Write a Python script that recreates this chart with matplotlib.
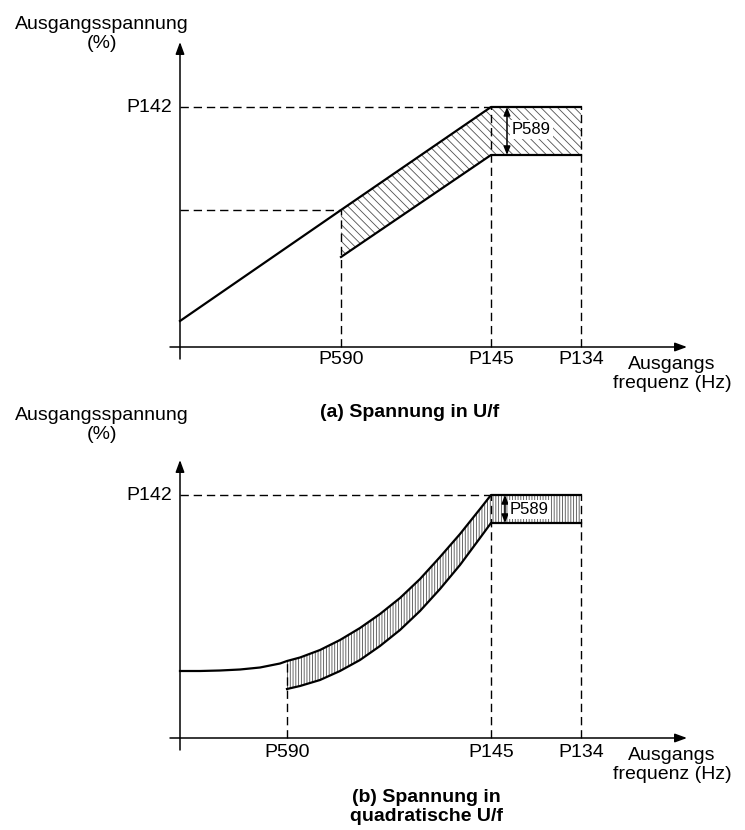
import matplotlib.pyplot as plt

plt.rcParams['font.family'] = ['Liberation Sans', 'DejaVu Sans']
plt.rcParams['hatch.linewidth'] = 0.6

# frequency positions of the parameters (same for both diagrams)
p590_lin = 161
p590_quad = 107
p145 = 311
p134 = 401

# (a) linear U/f: output voltage vs. frequency
lin_f = [0, 161, 311, 401]
lin_upper = [26, 137, 240, 240]
lin_lower = [90, 192, 192]          # starts at P590
lin_p142 = 240
lin_mid = 137

# (b) quadratic U/f
quad_f = [0, 20, 40, 60, 80, 100, 107, 120, 140, 160, 180, 200, 220, 240,
          260, 280, 300, 311, 401]
quad_upper = [67, 67, 67.5, 68.5, 70.5, 74.5, 77, 80.5, 88, 98, 110, 124,
              140, 159, 181, 204, 229, 243, 243]
quad_lower = [49, 52, 58, 67, 78, 92, 108, 127, 149, 173, 200, 215, 215]  # from P590
quad_p142 = 243

tick_names = ['P590', 'P145', 'P134']
y_label = 'Ausgangsspannung\n(%)'
x_label = 'Ausgangs\nfrequenz (Hz)'

FS = 14
DASH = dict(color='black', lw=1.0, dashes=(6, 3.5))
LINE = dict(color='black', lw=1.6)


def axis_arrow(ax, start, end):
    ax.annotate('', xy=end, xytext=start,
                arrowprops=dict(arrowstyle='-|>,head_length=0.6,head_width=0.22',
                                color='black', lw=1.1, shrinkA=0, shrinkB=0,
                                mutation_scale=12))


def draw_frame(ax, y_top):
    axis_arrow(ax, (0, -12), (0, y_top))
    axis_arrow(ax, (-10, 0), (507, 0))
    ax.text(-78, 313, y_label, ha='center', va='center', fontsize=FS,
            linespacing=1.15)
    ax.text(492, -27, x_label, ha='center', va='center', fontsize=FS,
            linespacing=1.15)


def p589(ax, f, top, bottom, text_v):
    ax.annotate('', xy=(f, top), xytext=(f, bottom),
                arrowprops=dict(arrowstyle='<|-|>,head_length=0.5,head_width=0.2',
                                color='black', lw=1.1, shrinkA=0, shrinkB=0,
                                mutation_scale=10))
    ax.text(f + 5, text_v, 'P589', ha='left', va='center', fontsize=12,
            bbox=dict(facecolor='white', edgecolor='none', pad=1.5))


fig = plt.figure(figsize=(7.45, 8.3), dpi=100)
ax1 = fig.add_axes([0, 0.5, 1, 0.5])
ax2 = fig.add_axes([0, 0, 1, 0.5])
ax1.set_xlim(-180, 565)
ax1.set_ylim(-68, 347)
ax2.set_xlim(-180, 565)
ax2.set_ylim(-92, 323)
for ax in (ax1, ax2):
    ax.axis('off')

# ---- (a) linear ----
ax1.fill_between(lin_f[1:], lin_upper[1:], lin_lower, facecolor='none',
                 edgecolor='#505050', lw=0, hatch='\\\\\\\\')
ax1.plot(lin_f, lin_upper, **LINE)
ax1.plot(lin_f[1:], lin_lower, **LINE)
ax1.plot([0, p145], [lin_p142, lin_p142], **DASH)
ax1.plot([0, p590_lin], [lin_mid, lin_mid], **DASH)
ax1.plot([p590_lin, p590_lin], [0, lin_mid], **DASH)
ax1.plot([p145, p145], [0, lin_p142], **DASH)
ax1.plot([p134, p134], [0, lin_p142], **DASH)
draw_frame(ax1, 305)
ax1.text(-8, lin_p142, 'P142', ha='right', va='center', fontsize=FS)
for name, f in zip(tick_names, [p590_lin, p145, p134]):
    ax1.text(f, -12, name, ha='center', va='center', fontsize=FS)
p589(ax1, 327, lin_p142, 192, 217)
ax1.text(230, -65, '(a) Spannung in U/f', ha='center', va='center',
         fontsize=FS, fontweight='bold')

# ---- (b) quadratic ----
i0 = quad_f.index(p590_quad)
ax2.fill_between(quad_f[i0:], quad_upper[i0:], quad_lower, facecolor='none',
                 edgecolor='#505050', lw=0, hatch='||||||')
ax2.plot(quad_f, quad_upper, **LINE)
ax2.plot(quad_f[i0:], quad_lower, **LINE)
ax2.plot([0, p145], [quad_p142, quad_p142], **DASH)
ax2.plot([p590_quad, p590_quad], [0, quad_upper[i0]], **DASH)
ax2.plot([p145, p145], [0, quad_p142], **DASH)
ax2.plot([p134, p134], [0, quad_p142], **DASH)
draw_frame(ax2, 278)
ax2.text(-8, quad_p142, 'P142', ha='right', va='center', fontsize=FS)
for name, f in zip(tick_names, [p590_quad, p145, p134]):
    ax2.text(f, -14, name, ha='center', va='center', fontsize=FS)
p589(ax2, 325, quad_p142, 215, 229)
ax2.text(246, -69, '(b) Spannung in\nquadratische U/f', ha='center',
         va='center', fontsize=FS, fontweight='bold', linespacing=1.15)

fig.savefig('out.png', dpi=100)
